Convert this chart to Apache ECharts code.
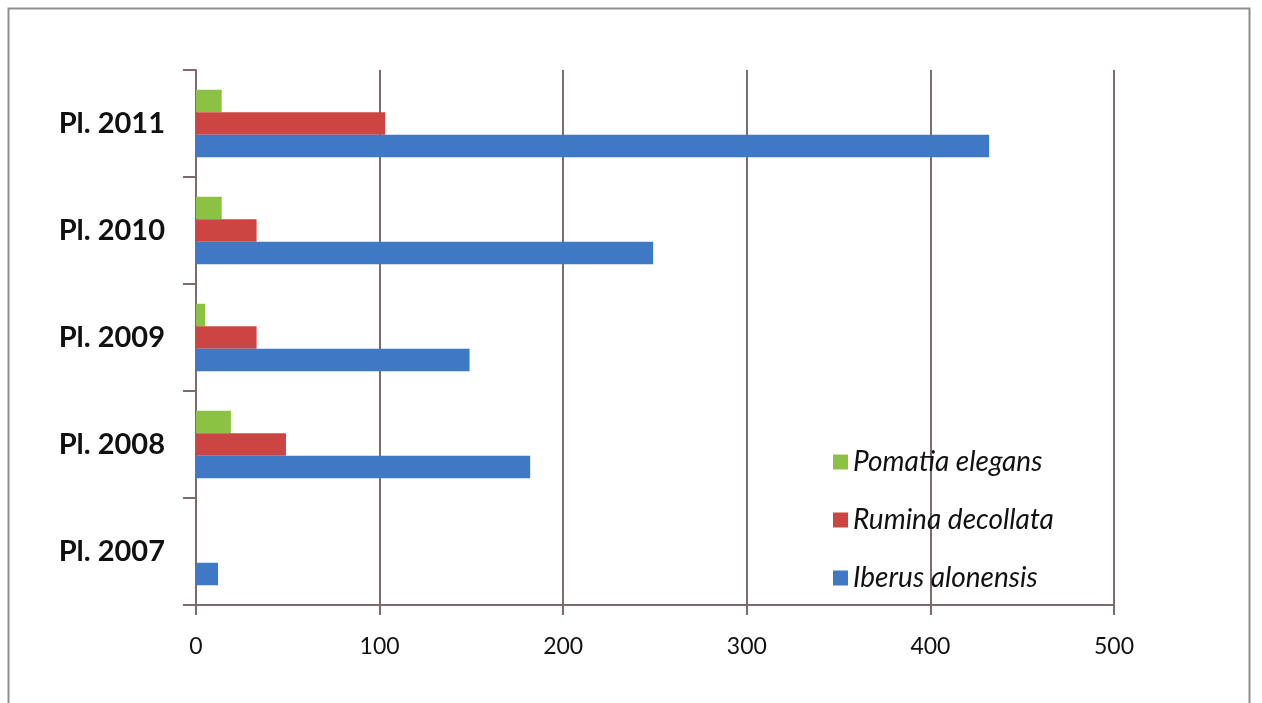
<!DOCTYPE html>
<html>
<head>
<meta charset="utf-8">
<script src="https://cdn.jsdelivr.net/npm/echarts@6/dist/echarts.min.js"></script>
<style>
  html, body { margin: 0; padding: 0; background: #ffffff; }
  #chart { width: 1262px; height: 703px; }
</style>
</head>
<body>
<div id="chart"></div>
<script>
// Plots, bottom to top
const categories = ['Pl. 2007', 'Pl. 2008', 'Pl. 2009', 'Pl. 2010', 'Pl. 2011'];

// Snail counts per plot
const iberusAlonensis = [12, 182, 149, 249, 432];
const ruminaDecollata = [0, 49, 33, 33, 103];
const pomatiaElegans = [0, 19, 5, 14, 14];

const speciesNames = ['Pomatia elegans', 'Rumina decollata', 'Iberus alonensis'];

const xTicks = { min: 0, max: 500, interval: 100 };

const axisColor = '#7a6d6b';
const fontFamily = 'Lato, "Open Sans", sans-serif';

const chart = echarts.init(document.getElementById('chart'), null, { renderer: 'canvas' });

const barStyle = (color) => ({
  type: 'bar',
  barWidth: 22.5,
  barGap: '0%',
  itemStyle: { color: color },
  emphasis: { disabled: true }
});

chart.setOption({
  backgroundColor: '#ffffff',
  animation: false,
  grid: { left: 196, right: 148, top: 70, bottom: 98, containLabel: false },
  graphic: [{
    type: 'rect',
    shape: { x: 8.5, y: 8.5, width: 1241, height: 720 },
    style: { fill: 'none', stroke: '#8e8e8e', lineWidth: 2 },
    silent: true
  }],
  legend: {
    data: speciesNames,
    orient: 'vertical',
    left: 828,
    top: 443,
    itemWidth: 15,
    itemHeight: 15,
    itemGap: 30,
    icon: 'rect',
    textStyle: { fontFamily: fontFamily, fontStyle: 'italic', fontSize: 28, color: '#111111' }
  },
  xAxis: {
    type: 'value',
    min: xTicks.min,
    max: xTicks.max,
    interval: xTicks.interval,
    axisLine: { show: true, lineStyle: { color: axisColor, width: 2 } },
    axisTick: { show: true, length: 10, lineStyle: { color: axisColor, width: 2 } },
    splitLine: { show: true, lineStyle: { color: axisColor, width: 2 } },
    axisLabel: { margin: 30, fontFamily: fontFamily, fontSize: 23, color: '#111111' }
  },
  yAxis: {
    type: 'category',
    data: categories,
    axisLine: { show: true, lineStyle: { color: axisColor, width: 2 } },
    axisTick: { show: true, length: 13, lineStyle: { color: axisColor, width: 2 } },
    axisLabel: { margin: 31, fontFamily: fontFamily, fontWeight: 'bold', fontSize: 29, color: '#111111' }
  },
  // series listed top-to-bottom within each plot band
  series: [
    Object.assign(barStyle('#8cc243'), { name: speciesNames[0], data: pomatiaElegans }),
    Object.assign(barStyle('#cb4642'), { name: speciesNames[1], data: ruminaDecollata }),
    Object.assign(barStyle('#3f78c5'), { name: speciesNames[2], data: iberusAlonensis })
  ]
});
</script>
</body>
</html>
